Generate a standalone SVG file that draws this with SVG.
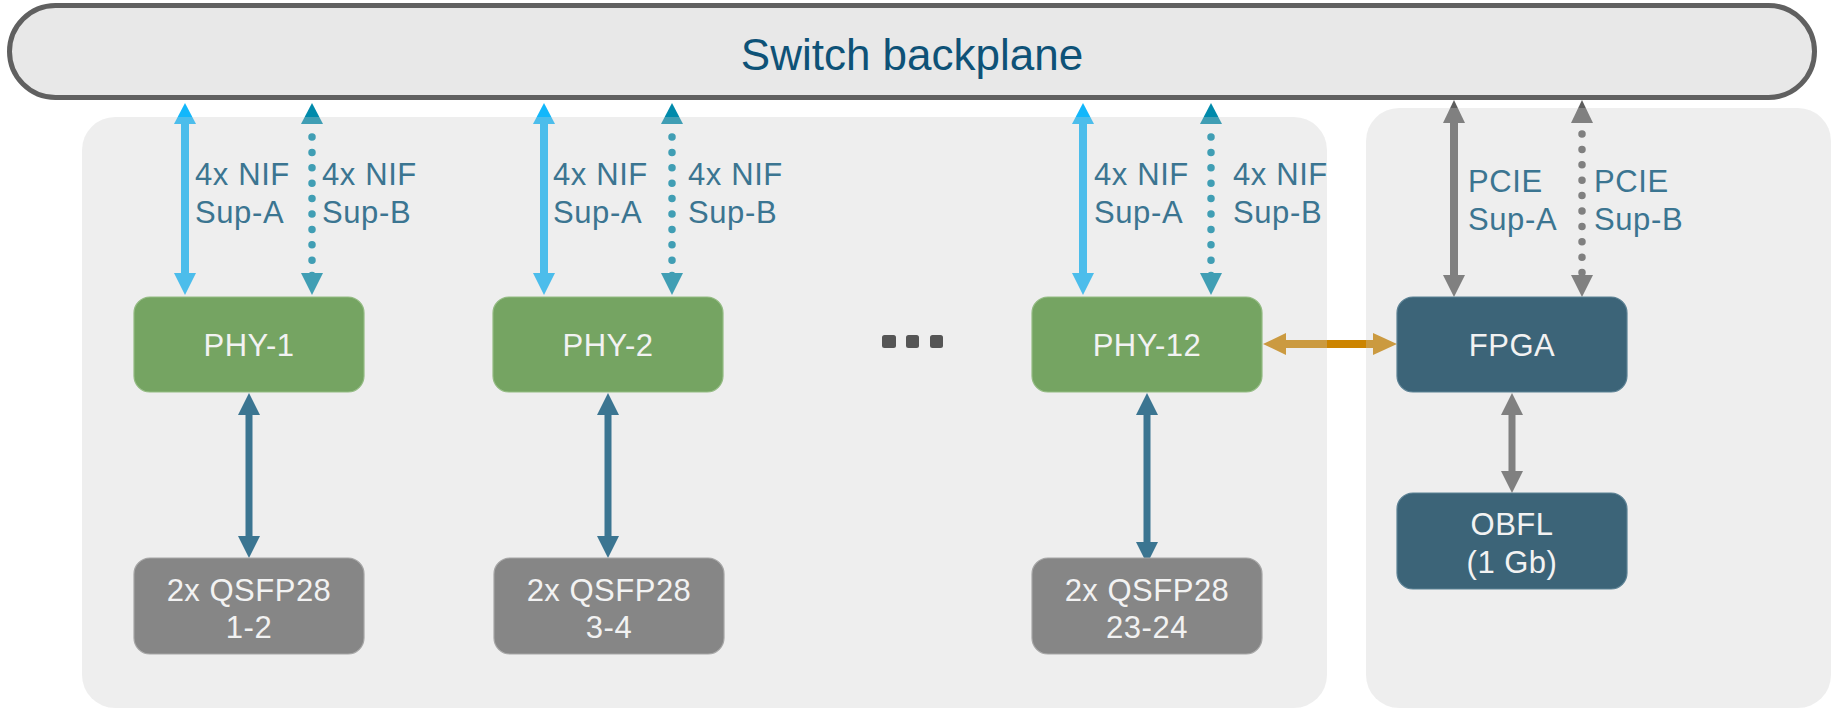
<svg xmlns="http://www.w3.org/2000/svg" width="1831" height="709" viewBox="0 0 1831 709">
<style>
  text { font-family: "Liberation Sans", Arial, sans-serif; }
  .lbl { font-size: 31px; fill: #3b7591; letter-spacing: 0.6px; }
  .ntx { font-size: 31px; fill: #f2f2f2; text-anchor: middle; letter-spacing: 0.5px; }
  .phy { fill: #75a462; stroke: #93bb82; stroke-width: 1.2; }
  .qsfp { fill: #868686; stroke: #a6a6a6; stroke-width: 1.2; }
  .dark { fill: #3c6478; stroke: #5b8194; stroke-width: 1.2; }
  .box { fill: #c9c9c9; fill-opacity: 0.318; }
  .sblue { stroke: #12b7fb; stroke-width: 8; }
  .hblue { fill: #12b7fb; }
  .dteal { stroke: #008aab; stroke-width: 7.5; stroke-linecap: round; stroke-dasharray: 0 15.4; fill: none; }
  .hteal { fill: #008aab; }
  .sgray { stroke: #5e5e5e; stroke-width: 8; }
  .hgray { fill: #5e5e5e; }
  .dgray { stroke: #5e5e5e; stroke-width: 7.5; stroke-linecap: round; stroke-dasharray: 0 15.4; fill: none; }
  .sor { stroke: #cc8400; stroke-width: 8; }
  .hor { fill: #cc8400; }
  .sdown { stroke: #3b7591; stroke-width: 7; }
  .hdown { fill: #3b7591; }
  .sg2 { stroke: #808080; stroke-width: 7; }
  .hg2 { fill: #808080; }
</style>

<g id="backplane">
  <rect x="9.5" y="5.5" width="1805" height="92" rx="46" fill="#e8e8e8" stroke="#606060" stroke-width="5"/>
  <text x="912" y="70" font-size="44" fill="#0e5277" text-anchor="middle">Switch backplane</text>
</g>

<g id="connectors-under">
  <line class="sblue" x1="185" y1="120" x2="185" y2="278"/>
  <polygon class="hblue" points="185,103 196,124 174,124"/>
  <polygon class="hblue" points="185,295 196,273 174,273"/>
  <line class="dteal" x1="312" y1="137" x2="312" y2="276"/>
  <polygon class="hteal" points="312,103 323,124 301,124"/>
  <polygon class="hteal" points="312,295 323,273 301,273"/>
  <line class="sblue" x1="544" y1="120" x2="544" y2="278"/>
  <polygon class="hblue" points="544,103 555,124 533,124"/>
  <polygon class="hblue" points="544,295 555,273 533,273"/>
  <line class="dteal" x1="672" y1="137" x2="672" y2="276"/>
  <polygon class="hteal" points="672,103 683,124 661,124"/>
  <polygon class="hteal" points="672,295 683,273 661,273"/>
  <line class="sblue" x1="1083" y1="120" x2="1083" y2="278"/>
  <polygon class="hblue" points="1083,103 1094,124 1072,124"/>
  <polygon class="hblue" points="1083,295 1094,273 1072,273"/>
  <line class="dteal" x1="1211" y1="137" x2="1211" y2="276"/>
  <polygon class="hteal" points="1211,103 1222,124 1200,124"/>
  <polygon class="hteal" points="1211,295 1222,273 1200,273"/>
  <line class="sgray" x1="1454" y1="118" x2="1454" y2="280"/>
  <polygon class="hgray" points="1454,100 1465,123 1443,123"/>
  <polygon class="hgray" points="1454,297 1465,275 1443,275"/>
  <line class="dgray" x1="1582" y1="134" x2="1582" y2="273"/>
  <polygon class="hgray" points="1582,100 1593,123 1571,123"/>
  <polygon class="hgray" points="1582,297 1593,275 1571,275"/>
  <line class="sor" x1="1280" y1="344" x2="1380" y2="344"/>
  <polygon class="hor" points="1263,344 1286,333 1286,355"/>
  <polygon class="hor" points="1397,344 1373,333 1373,355"/>
</g>

<g id="containers">
  <rect class="box" x="82" y="117" width="1245" height="591" rx="33"/>
  <rect class="box" x="1366" y="108" width="465" height="600" rx="33"/>
</g>

<g id="connectors">
  <line class="sdown" x1="249" y1="410" x2="249" y2="540"/>
  <polygon class="hdown" points="249,393 260,415 238,415"/>
  <polygon class="hdown" points="249,558 260,536 238,536"/>
  <line class="sdown" x1="608" y1="410" x2="608" y2="540"/>
  <polygon class="hdown" points="608,393 619,415 597,415"/>
  <polygon class="hdown" points="608,558 619,536 597,536"/>
  <line class="sdown" x1="1147" y1="410" x2="1147" y2="545"/>
  <polygon class="hdown" points="1147,393 1158,415 1136,415"/>
  <polygon class="hdown" points="1147,564 1158,542 1136,542"/>
  <line class="sg2" x1="1512" y1="410" x2="1512" y2="476"/>
  <polygon class="hg2" points="1512,393 1523,415 1501,415"/>
  <polygon class="hg2" points="1512,493 1523,471 1501,471"/>
</g>

<g id="labels">
  <text class="lbl" x="195" y="185">4x NIF</text>
  <text class="lbl" x="195" y="223">Sup-A</text>
  <text class="lbl" x="322" y="185">4x NIF</text>
  <text class="lbl" x="322" y="223">Sup-B</text>
  <text class="lbl" x="553" y="185">4x NIF</text>
  <text class="lbl" x="553" y="223">Sup-A</text>
  <text class="lbl" x="688" y="185">4x NIF</text>
  <text class="lbl" x="688" y="223">Sup-B</text>
  <text class="lbl" x="1094" y="185">4x NIF</text>
  <text class="lbl" x="1094" y="223">Sup-A</text>
  <text class="lbl" x="1233" y="185">4x NIF</text>
  <text class="lbl" x="1233" y="223">Sup-B</text>
  <text class="lbl" x="1468" y="192">PCIE</text>
  <text class="lbl" x="1468" y="230">Sup-A</text>
  <text class="lbl" x="1594" y="192">PCIE</text>
  <text class="lbl" x="1594" y="230">Sup-B</text>
</g>

<g id="phy-1">
  <rect class="phy" x="134" y="297" width="230" height="95" rx="16"/>
  <text class="ntx" x="249" y="356">PHY-1</text>
</g>
<g id="phy-2">
  <rect class="phy" x="493" y="297" width="230" height="95" rx="16"/>
  <text class="ntx" x="608" y="356">PHY-2</text>
</g>
<g id="phy-12">
  <rect class="phy" x="1032" y="297" width="230" height="95" rx="16"/>
  <text class="ntx" x="1147" y="356">PHY-12</text>
</g>
<g id="fpga">
  <rect class="dark" x="1397" y="297" width="230" height="95" rx="16"/>
  <text class="ntx" x="1512" y="356">FPGA</text>
</g>
<g id="obfl">
  <rect class="dark" x="1397" y="493" width="230" height="96" rx="16"/>
  <text class="ntx" x="1512" y="535">OBFL</text>
  <text class="ntx" x="1512" y="573">(1 Gb)</text>
</g>
<g id="qsfp-1-2">
  <rect class="qsfp" x="134" y="558" width="230" height="96" rx="16"/>
  <text class="ntx" x="249" y="601">2x QSFP28</text>
  <text class="ntx" x="249" y="638">1-2</text>
</g>
<g id="qsfp-3-4">
  <rect class="qsfp" x="494" y="558" width="230" height="96" rx="16"/>
  <text class="ntx" x="609" y="601">2x QSFP28</text>
  <text class="ntx" x="609" y="638">3-4</text>
</g>
<g id="qsfp-23-24">
  <rect class="qsfp" x="1032" y="558" width="230" height="96" rx="16"/>
  <text class="ntx" x="1147" y="601">2x QSFP28</text>
  <text class="ntx" x="1147" y="638">23-24</text>
</g>
<g id="ellipsis" fill="#555555">
  <rect x="882" y="335" width="14" height="13" rx="2.5"/>
  <rect x="906" y="335" width="13" height="13" rx="2.5"/>
  <rect x="930" y="335" width="13" height="13" rx="2.5"/>
</g>
</svg>
